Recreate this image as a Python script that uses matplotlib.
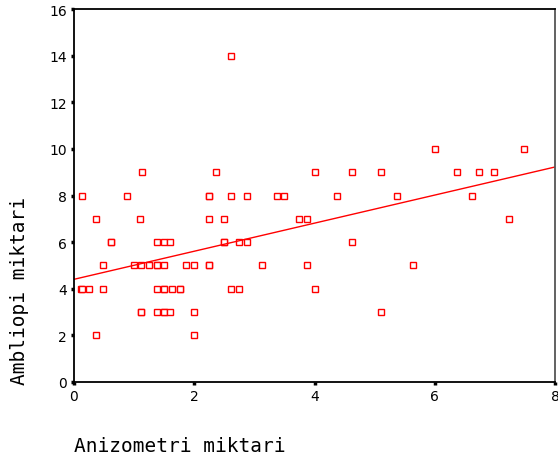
import numpy as np
import matplotlib
matplotlib.use('Agg')
import matplotlib.pyplot as plt

# Anizometri miktari (x) vs Ambliopi miktari (y)
anizometri = [0.37, 2.00,
              1.12, 1.12, 1.38, 1.50, 1.50, 1.60, 2.00, 5.11,
              0.11, 0.14, 0.25, 0.49, 1.38, 1.50, 1.50, 1.63, 1.76, 1.76, 2.61, 2.74, 4.00,
              0.49, 0.99, 1.12, 1.25, 1.38, 1.38, 1.50, 1.86, 2.00, 2.24, 2.24, 3.12, 3.87, 5.64,
              0.62, 0.62, 1.38, 1.50, 1.60, 2.49, 2.49, 2.74, 2.87, 4.63,
              0.37, 1.10, 2.24, 2.49, 3.74, 3.87, 7.24,
              0.14, 0.88, 2.24, 2.24, 2.61, 2.87, 3.37, 3.50, 4.38, 5.38, 6.62,
              1.13, 2.36, 4.00, 4.63, 5.11, 6.37, 6.74, 6.99,
              6.01, 7.49,
              2.61]
ambliopi = [2, 2,
            3, 3, 3, 3, 3, 3, 3, 3,
            4, 4, 4, 4, 4, 4, 4, 4, 4, 4, 4, 4, 4,
            5, 5, 5, 5, 5, 5, 5, 5, 5, 5, 5, 5, 5, 5,
            6, 6, 6, 6, 6, 6, 6, 6, 6, 6,
            7, 7, 7, 7, 7, 7, 7,
            8, 8, 8, 8, 8, 8, 8, 8, 8, 8, 8,
            9, 9, 9, 9, 9, 9, 9, 9,
            10, 10,
            14]
x_ticks = [0, 2, 4, 6, 8]
y_ticks = [0, 2, 4, 6, 8, 10, 12, 14, 16]

x = np.array(anizometri)
y = np.array(ambliopi)
slope, intercept = np.polyfit(x, y, 1)

fig = plt.figure(figsize=(5.58, 4.64), dpi=100)
ax = fig.add_axes([74 / 558, 81 / 464, 481 / 558, 373 / 464])

ax.plot(x, y, ls='none', marker='s', ms=4.6, mew=1.0, mec='#ff0000', mfc='white')
fx = np.array([0, 8])
ax.plot(fx, intercept + slope * fx, color='#ff0000', lw=1.0)

ax.set_xlim(0, 8)
ax.set_ylim(0, 16)
ax.set_xticks(x_ticks)
ax.set_yticks(y_ticks)
ax.tick_params(direction='out', length=2, width=2.5, labelsize=10, pad=3, colors='black')

for side in ['left', 'bottom', 'top']:
    ax.spines[side].set_linewidth(1.3)
    ax.spines[side].set_color('black')
ax.spines['right'].set_linewidth(1.3)
ax.spines['right'].set_color('#555555')

fig.text(74 / 558, 1 - 452 / 464, 'Anizometri miktari', family='DejaVu Sans Mono',
         fontsize=14, ha='left', va='baseline')
fig.text(20 / 558, 1 - 385 / 464, 'Ambliopi miktari', family='DejaVu Sans Mono',
         fontsize=14, rotation=90, ha='center', va='bottom')

fig.savefig('out.png', dpi=100)
